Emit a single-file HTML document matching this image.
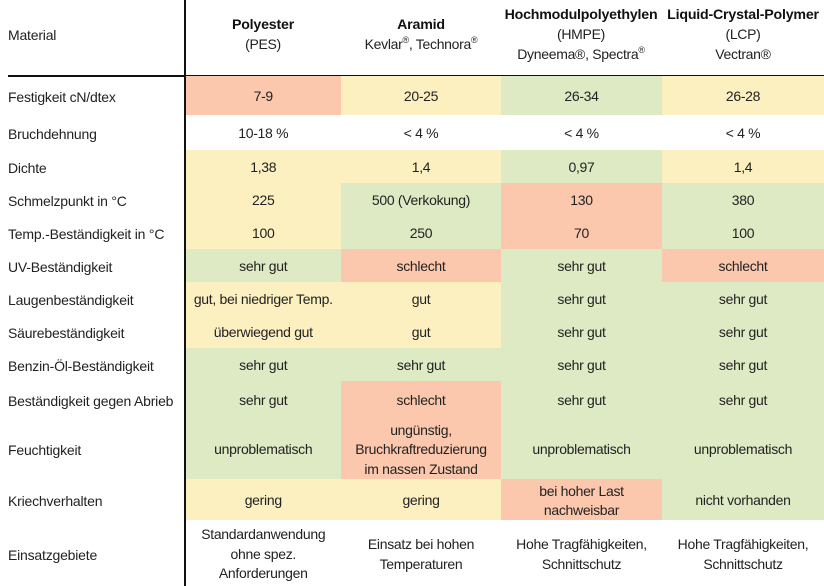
<!DOCTYPE html>
<html><head><meta charset="utf-8"><style>
body{margin:0;width:824px;height:586px;background:#fff;position:relative;overflow:hidden;font-family:"Liberation Sans",sans-serif;font-size:14px;color:#222}
.c{position:absolute;display:flex;align-items:center;justify-content:center;text-align:center;line-height:19.5px;letter-spacing:-0.3px;white-space:nowrap;box-sizing:border-box;padding-top:3px}
.l{position:absolute;left:8px;display:flex;align-items:center;letter-spacing:-0.2px;white-space:nowrap;box-sizing:border-box;padding-top:3px}
.R{background:#fbc8ad}.Y{background:#fcefc0}.G{background:#deeac4}
b{font-weight:bold;color:#111;font-size:14.2px;letter-spacing:-0.2px}
sup{font-size:9px;line-height:0;vertical-align:6px}
</style></head><body>
<div style="position:absolute;left:184px;top:0;width:1.5px;height:586px;background:#111"></div>
<div style="position:absolute;left:8px;top:75px;width:816px;height:1.5px;background:#111"></div>
<div class="l" style="top:0;height:66px">Material</div>
<div class="c" style="left:185px;width:156px;top:13px;height:40px"><div><b>Polyester</b><br>(PES)</div></div>
<div class="c" style="left:341px;width:160px;top:13px;height:40px"><div><b>Aramid</b><br>Kevlar<sup>®</sup>, Technora<sup>®</sup></div></div>
<div class="c" style="left:498px;width:166px;top:3px;height:60px"><div><b>Hochmodulpolyethylen</b><br>(HMPE)<br>Dyneema®, Spectra<sup>®</sup></div></div>
<div class="c" style="left:662px;width:162px;top:3px;height:60px"><div><b>Liquid-Crystal-Polymer</b><br>(LCP)<br>Vectran®</div></div>
<div id="t"></div>
<script>
var rows=[
["Festigkeit cN/dtex",76,115,["R","Y","G","Y"],["7-9","20-25","26-34","26-28"]],
["Bruchdehnung",115,150,["","","",""],["10-18 %","< 4 %","< 4 %","< 4 %"]],
["Dichte",150,183,["Y","Y","G","Y"],["1,38","1,4","0,97","1,4"]],
["Schmelzpunkt in °C",183,216,["Y","G","R","G"],["225","500 (Verkokung)","130","380"]],
["Temp.-Beständigkeit in °C",216,249,["Y","G","R","G"],["100","250","70","100"]],
["UV-Beständigkeit",249,282,["G","R","G","R"],["sehr gut","schlecht","sehr gut","schlecht"]],
["Laugenbeständigkeit",282,315,["Y","Y","G","G"],["gut, bei niedriger Temp.","gut","sehr gut","sehr gut"]],
["Säurebeständigkeit",315,348,["Y","Y","G","G"],["überwiegend gut","gut","sehr gut","sehr gut"]],
["Benzin-Öl-Beständigkeit",348,381,["G","G","G","G"],["sehr gut","sehr gut","sehr gut","sehr gut"]],
["Beständigkeit gegen Abrieb",381,418,["G","R","G","G"],["sehr gut","schlecht","sehr gut","sehr gut"]],
["Feuchtigkeit",418,479,["G","R","G","G"],["unproblematisch","ungünstig,<br>Bruchkraftreduzierung<br>im nassen Zustand","unproblematisch","unproblematisch"]],
["Kriechverhalten",479,520,["Y","Y","R","G"],["gering","gering","bei hoher Last<br>nachweisbar","nicht vorhanden"]],
["Einsatzgebiete",520,586,["","","",""],["Standardanwendung<br>ohne spez.<br>Anforderungen","Einsatz bei hohen<br>Temperaturen","Hohe Tragfähigkeiten,<br>Schnittschutz","Hohe Tragfähigkeiten,<br>Schnittschutz"]]
];
var xs=[185.5,341,501,662,824],h="";
rows.forEach(function(r){
h+='<div class="l" style="top:'+r[1]+'px;height:'+(r[2]-r[1])+'px">'+r[0]+'</div>';
for(var i=0;i<4;i++){h+='<div class="c '+r[3][i]+'" style="left:'+xs[i]+'px;width:'+(xs[i+1]-xs[i])+'px;top:'+r[1]+'px;height:'+(r[2]-r[1])+'px"><div>'+r[4][i]+'</div></div>';}
});
document.getElementById("t").innerHTML=h;
</script>
</body></html>
